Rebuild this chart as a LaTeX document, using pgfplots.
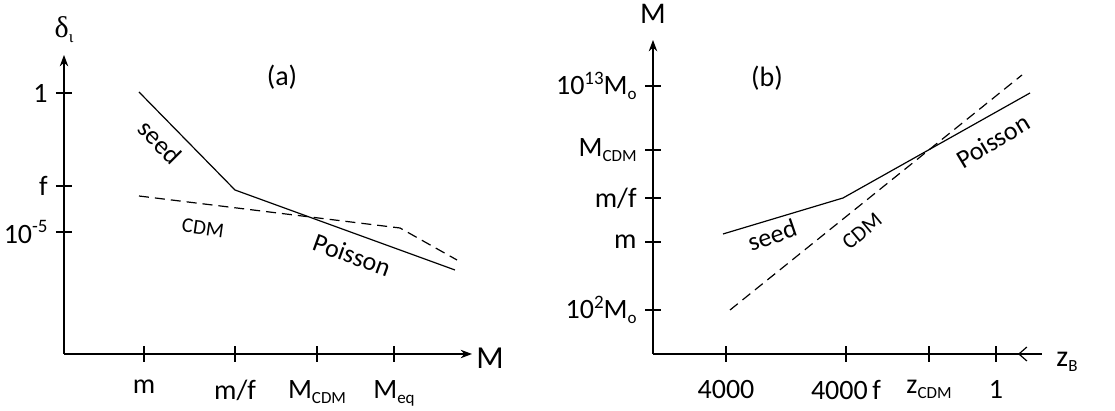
\documentclass[border=0pt]{standalone}
\usepackage{fontspec}
\setmainfont{Carlito}
\newfontfamily\grk{Liberation Serif}
\usepackage{pgfplots}
\pgfplotsset{compat=1.18}
\usetikzlibrary{arrows.meta}
\newcommand\sbs[1]{\raisebox{-0.35ex}{\fontsize{8.5}{9}\selectfont #1}}
\newcommand\sps[1]{\raisebox{0.75ex}{\fontsize{9.5}{10}\selectfont #1}}
\begin{document}
\begin{tikzpicture}
\fontsize{12}{14}\selectfont
\pgfplotsset{
  every axis/.append style={
    x=0.5pt, y=0.5pt,
    axis lines=left,
    clip=false,
    tick align=center,
    major tick length=8pt,
    tick style={black, line width=0.6pt},
    axis line style={line width=0.6pt},
    ticklabel style={font=\fontsize{14}{16}\selectfont},
    xticklabel style={yshift=-5pt},
    /pgf/number format/assume math mode=true,
  }
}
% ---------- panel (a)
\begin{axis}[
  anchor=south west, at={(32pt,28.5pt)},
  xmin=64, xmax=472, ymin=57, ymax=356,
  x axis line style={-Stealth},
  y axis line style={-Stealth},
  xtick={144,235,317,394},
  xticklabels={m, m/f, M\sbs{CDM}, M\sbs{eq}},
  ytick={318,225,179},
  yticklabels={1, f, 10\sps{-5}},
]
\addplot[black, line width=0.6pt] coordinates {(139,319) (235,221) (455,141)};
\addplot[black, line width=0.6pt, dash pattern=on 5pt off 3pt] coordinates {(139,215) (400,183) (457,151)};
\node[font=\fontsize{14}{16}\selectfont] at (axis cs:282,334) {(a)};
\node[font=\fontsize{15}{17}\selectfont] at (axis cs:64,381) {{\grk δ}\sbs{\grk ι}};
\node[font=\fontsize{16}{18}\selectfont] at (axis cs:490,53) {M};
\node[rotate=-45, font=\fontsize{13}{15}\selectfont] at (axis cs:160,269) {seed};
\node[rotate=-8, font=\fontsize{10.5}{12}\selectfont] at (axis cs:203,183) {CDM};
\node[rotate=-20, font=\fontsize{13}{15}\selectfont] at (axis cs:352,156) {Poisson};
\end{axis}
% ---------- panel (b)
\begin{axis}[
  anchor=south west, at={(326.5pt,28.5pt)},
  xmin=653, xmax=1042, ymin=57, ymax=371,
  x axis line style={-},
  y axis line style={-Stealth},
  xtick={726,846,929,996},
  xticklabels={4000, 4000\,f, z\sbs{CDM}, 1},
  ytick={325,261,213,169,101},
  yticklabels={10\sps{13}M\sbs{o}, M\sbs{CDM}, m/f, m, 10\sps{2}M\sbs{o}},
]
\addplot[black, line width=0.6pt] coordinates {(723,177) (843,213) (1030,318)};
\addplot[black, line width=0.6pt, dash pattern=on 5pt off 3pt] coordinates {(730,101) (1022,336)};
\draw[line width=0.6pt, -{Straight Barb[length=4pt, width=7pt]}] (axis cs:1030,57) -- (axis cs:1018,57);
\node[font=\fontsize{14}{16}\selectfont] at (axis cs:767,333) {(b)};
\node[font=\fontsize{15}{17}\selectfont] at (axis cs:653,397) {M};
\node[font=\fontsize{15}{17}\selectfont] at (axis cs:1067,49) {z\sbs{B}};
\node[rotate=19, font=\fontsize{13}{15}\selectfont] at (axis cs:772,176) {seed};
\node[rotate=40, font=\fontsize{11}{13}\selectfont] at (axis cs:862,180) {CDM};
\node[rotate=31, font=\fontsize{13}{15}\selectfont] at (axis cs:993,270) {Poisson};
\end{axis}
\pgfresetboundingbox
\useasboundingbox (0,0) rectangle (557.5pt,205.5pt);
\end{tikzpicture}
\end{document}
